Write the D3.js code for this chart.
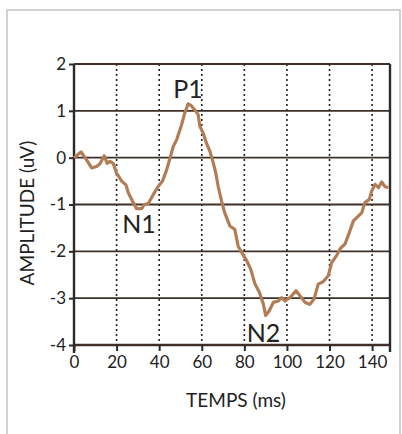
<!DOCTYPE html>
<html>
<head>
<meta charset="utf-8">
<script src="https://cdn.jsdelivr.net/npm/d3@7"></script>
<style>
  body { margin: 0; background: #fff; }
  text { font-family: Lato, "Open Sans", sans-serif; fill: #222; }
</style>
</head>
<body>
<div id="vis"></div>
<script>
const times = [0, 3.3, 5.2, 8.3, 10.6, 12.2, 14.2, 15.6, 16.9, 18.4, 20, 22.4, 24.4, 25.5, 27.5, 29.4, 31.8, 32.9, 34.9, 37.2, 39.6, 41.6, 43.5, 45, 46.6, 48.2, 50.5, 52, 53.6, 55.1, 56.7, 58.3, 59.1, 60.6, 62.2, 63.8, 65.4, 66.6, 67.7, 69.3, 70.8, 73.2, 75.5, 77.1, 79.2, 81.1, 83, 85, 87, 88.9, 90, 91.7, 93.6, 96, 97.5, 99.1, 101.4, 104.3, 106.1, 108.5, 110.8, 112.7, 114.7, 117, 119.4, 121, 123.3, 124.9, 127.3, 129.3, 131.2, 133.5, 135.1, 136.6, 138.7, 139.8, 141.4, 143, 144.5, 146.1, 147.6];
const amps = [0, 0.12, 0, -0.22, -0.19, -0.13, 0.04, -0.12, -0.08, -0.12, -0.33, -0.5, -0.58, -0.75, -0.93, -1.09, -1.09, -1.0, -0.98, -0.79, -0.61, -0.5, -0.26, -0.03, 0.24, 0.38, 0.7, 0.95, 1.15, 1.11, 1.02, 0.92, 0.67, 0.53, 0.31, 0.14, -0.11, -0.33, -0.61, -0.93, -1.18, -1.46, -1.53, -1.89, -2.06, -2.2, -2.38, -2.7, -2.87, -3.12, -3.37, -3.27, -3.09, -3.06, -2.99, -3.06, -2.99, -2.84, -2.95, -3.09, -3.13, -3.02, -2.7, -2.65, -2.52, -2.24, -2.09, -1.95, -1.84, -1.6, -1.35, -1.25, -1.18, -0.96, -0.89, -0.71, -0.57, -0.64, -0.52, -0.62, -0.64];
const xTicks = [0, 20, 40, 60, 80, 100, 120, 140];
const yTicks = [2, 1, 0, -1, -2, -3, -4];
const peakNames = ["P1", "N1", "N2"];
const peakTimes = [53.5, 30.5, 89];
const peakAmps = [1.28, -1.6, -3.93];

const W = 402, H = 434;
const margin = { top: 64, left: 74, right: 12, bottom: 89 };
const width = 390 - margin.left;
const height = 345 - margin.top;

const root = d3.select("#vis").append("svg")
  .attr("width", W).attr("height", H);

// outer scanned frame
root.append("path")
  .attr("d", `M7,${H} V10 H400 V${H}`)
  .attr("fill", "none")
  .attr("stroke", "#c4c4c4")
  .attr("stroke-width", 1.5);

const svg = root.append("g")
  .attr("transform", `translate(${margin.left},${margin.top})`);

const x = d3.scaleLinear().domain([0, 148.4]).range([0, width]);
const y = d3.scaleLinear().domain([-4, 2]).range([height, 0]);

// VERTICAL DOTTED GRID
svg.append("g")
  .selectAll("line")
  .data(xTicks.filter(d => d > 0))
  .enter()
  .append("line")
  .attr("x1", d => x(d)).attr("x2", d => x(d))
  .attr("y1", 0).attr("y2", height)
  .attr("stroke", "#222")
  .attr("stroke-width", 1.6)
  .attr("stroke-dasharray", "2,3");

// HORIZONTAL GRID
svg.append("g")
  .selectAll("line")
  .data(yTicks)
  .enter()
  .append("line")
  .attr("x1", 0).attr("x2", width)
  .attr("y1", d => y(d)).attr("y2", d => y(d))
  .attr("stroke", "#3e2f28")
  .attr("stroke-width", d => d === -4 ? 2.4 : 1.8);

// right border
svg.append("line")
  .attr("x1", width).attr("x2", width)
  .attr("y1", 0).attr("y2", height + 7)
  .attr("stroke", "#2a2a2a")
  .attr("stroke-width", 2.4);

// AXES
const yAxis = svg.append("g")
  .call(d3.axisLeft(y).tickValues(yTicks).tickSize(5).tickPadding(3).tickFormat(d3.format("d")));
yAxis.select(".domain").attr("stroke", "#2a2a2a").attr("stroke-width", 2.4)
  .attr("d", `M0,0V${height + 8}`);
yAxis.selectAll(".tick line").attr("stroke", "#2a2a2a").attr("stroke-width", 2);
yAxis.selectAll(".tick text").attr("font-size", "17px").attr("font-family", "Lato, sans-serif")
  .attr("fill", "#222").text(d => d < 0 ? "-" + Math.abs(d) : d);

const xAxis = svg.append("g")
  .attr("transform", `translate(0,${height})`)
  .call(d3.axisBottom(x).tickValues(xTicks).tickSize(6).tickPadding(5));
xAxis.select(".domain").remove();
xAxis.selectAll(".tick line").attr("stroke", "#2a2a2a").attr("stroke-width", 2);
xAxis.selectAll(".tick text").attr("font-size", "17px").attr("font-family", "Lato, sans-serif").attr("fill", "#222");

// CURVE
const line = d3.line()
  .x((d, i) => x(times[i]))
  .y(d => y(d));

svg.append("path")
  .datum(amps)
  .attr("d", line)
  .attr("fill", "none")
  .attr("stroke", "#b27d55")
  .attr("stroke-width", 3.2)
  .attr("stroke-linejoin", "round");

// PEAK LABELS
svg.selectAll(".peak")
  .data(peakNames)
  .enter()
  .append("text")
  .attr("class", "peak")
  .attr("x", (d, i) => x(peakTimes[i]))
  .attr("y", (d, i) => y(peakAmps[i]))
  .attr("text-anchor", "middle")
  .attr("font-size", "25px")
  .text(d => d);

// AXIS TITLES
root.append("text")
  .attr("x", margin.left + 162)
  .attr("y", 407)
  .attr("text-anchor", "middle")
  .attr("font-size", "19px")
  .text("TEMPS (ms)");

root.append("text")
  .attr("transform", `translate(34,213) rotate(-90)`)
  .attr("text-anchor", "middle")
  .attr("font-size", "19px")
  .text("AMPLITUDE (uV)");
</script>
</body>
</html>
